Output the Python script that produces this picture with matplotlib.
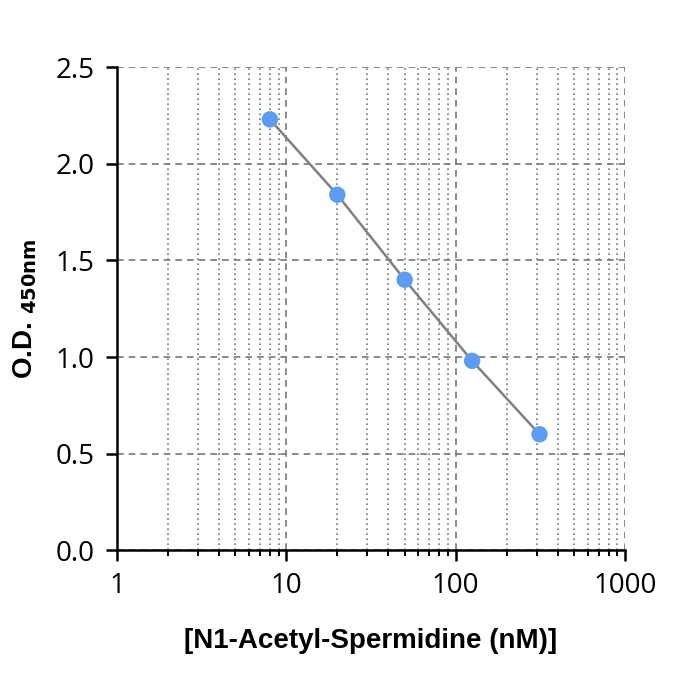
import matplotlib
matplotlib.use("Agg")
import matplotlib.pyplot as plt
from matplotlib.ticker import LogLocator, NullFormatter, FixedLocator

# data
conc_nM = [8.0, 20.0, 50.0, 125.0, 312.5]
od_450 = [2.23, 1.84, 1.40, 0.98, 0.60]
x_ticks = [1, 10, 100, 1000]
x_labels = ["1", "10", "100", "1000"]
y_ticks = [0.0, 0.5, 1.0, 1.5, 2.0, 2.5]

plt.rcParams["font.family"] = "Open Sans"

fig = plt.figure(figsize=(7, 7), dpi=100)
ax = fig.add_axes([0.167, 0.214, 0.726, 0.69])

ax.plot(conc_nM, od_450, color="#808080", lw=1.8, zorder=2)
ax.scatter(conc_nM, od_450, s=140, color="#5c9cf2", zorder=3, edgecolors="none")

ax.set_xscale("log")
ax.set_xlim(1, 1000)
ax.set_ylim(0, 2.5)
ax.xaxis.set_major_locator(FixedLocator(x_ticks))
ax.set_xticklabels(x_labels)
ax.xaxis.set_minor_locator(LogLocator(base=10, subs=range(2, 10)))
ax.xaxis.set_minor_formatter(NullFormatter())
ax.set_yticks(y_ticks)
ax.set_yticklabels([f"{v:.1f}" for v in y_ticks])

ax.grid(which="major", color="#777777", ls=(0, (4, 3)), lw=1.2)
ax.grid(which="minor", axis="x", color="#777777", ls=(0, (1, 2)), lw=1.2)
ax.set_axisbelow(True)

for s in ["top", "right"]:
    ax.spines[s].set_visible(False)
for s in ["left", "bottom"]:
    ax.spines[s].set_linewidth(1.8)

ax.tick_params(which="major", length=8, width=1.8, labelsize=20, pad=8)
ax.tick_params(which="minor", length=4, width=1.4)

ax.set_xlabel("[N1-Acetyl-Spermidine (nM)]", fontsize=20, fontweight="bold",
              fontfamily="Liberation Sans", labelpad=20)
ax.set_ylabel(r"O.D. $_{\mathbf{450nm}}$", fontsize=20, fontweight="bold",
              fontfamily="Liberation Sans", labelpad=12)

fig.savefig("out.png", dpi=100)
